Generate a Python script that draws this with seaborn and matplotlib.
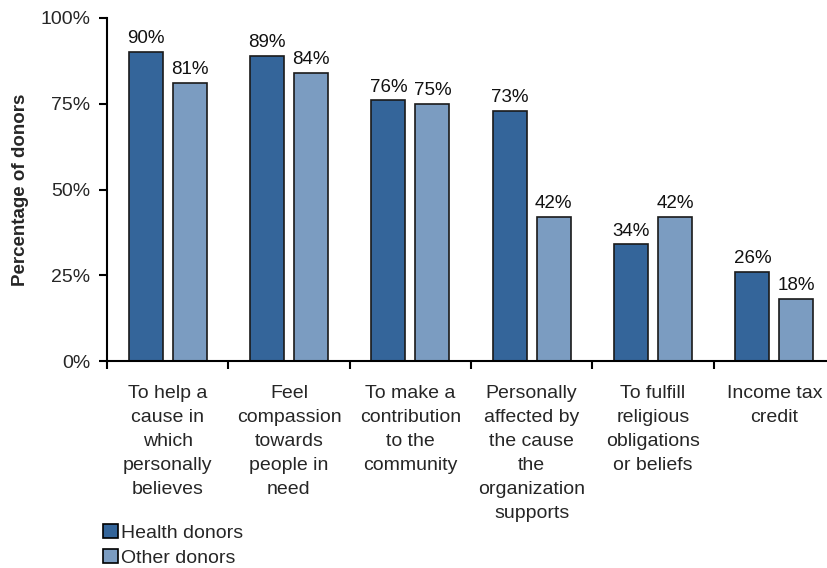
import matplotlib
matplotlib.use("Agg")
import matplotlib.pyplot as plt
import seaborn as sns
import pandas as pd
import numpy as np
from matplotlib.patches import Patch

categories = [
    "To help a\ncause in\nwhich\npersonally\nbelieves",
    "Feel\ncompassion\ntowards\npeople in\nneed",
    "To make a\ncontribution\nto the\ncommunity",
    "Personally\naffected by\nthe cause\nthe\norganization\nsupports",
    "To fulfill\nreligious\nobligations\nor beliefs",
    "Income tax\ncredit",
]
health = [90, 89, 76, 73, 34, 26]
other = [81, 84, 75, 42, 42, 18]
series = ["Health donors", "Other donors"]
colors = ["#34659a", "#7b9cc1"]

df = pd.DataFrame({
    "cat": list(range(len(categories))) * 2,
    "val": [v / 100 for v in health] + [v / 100 for v in other],
    "series": [series[0]] * len(health) + [series[1]] * len(other),
})

sns.set_style("white")
plt.rcParams["font.family"] = ["Liberation Sans", "DejaVu Sans"]

W, H = 828, 568
fig = plt.figure(figsize=(W / 100, H / 100), dpi=100)
left, right, top, bottom = 107, 835, 18, 361
ax = fig.add_axes([left / W, (H - bottom) / H, (right - left) / W, (bottom - top) / H])

sns.barplot(data=df, x="cat", y="val", hue="series", palette=colors, width=0.725, saturation=1,
            edgecolor="#1a1a1a", linewidth=1.2, ax=ax, legend=False, order=list(range(6)))

bw = 0.28
for p in ax.patches:
    c = p.get_x() + p.get_width() / 2
    p.set_width(bw)
    p.set_x(c - bw / 2)
    h = p.get_height()
    if h > 0:
        ax.text(c, h + 0.014, f"{round(h * 100)}%", ha="center", va="bottom",
                fontsize=13.5, color="#111111")

ax.set_xlim(-0.5, 5.5)
ax.set_ylim(0, 1)
ax.set_yticks([0, 0.25, 0.5, 0.75, 1.0])
ax.set_yticklabels(["0%", "25%", "50%", "75%", "100%"], fontsize=14)
ax.set_xticks(np.arange(-0.5, 6, 1))
ax.set_xticklabels([])
ax.set_xticks(range(6), minor=True)
ax.set_xticklabels(categories, minor=True, fontsize=14, linespacing=1.55, va="top")
ax.tick_params(axis="x", which="minor", length=0, pad=17)
ax.tick_params(axis="x", which="major", length=6, width=1.5, direction="out", color="black", bottom=True)
ax.tick_params(axis="y", length=6, width=1.5, direction="out", color="black", left=True, pad=6)
for s in ["top", "right"]:
    ax.spines[s].set_visible(False)
for s in ["left", "bottom"]:
    ax.spines[s].set_linewidth(1.5)
    ax.spines[s].set_color("black")
ax.set_xlabel("")
ax.set_ylabel("Percentage of donors", fontsize=13.5, fontweight="bold", labelpad=8.5)

handles = [Patch(facecolor=colors[i], edgecolor="black", linewidth=1.2, label=series[i]) for i in range(2)]
fig.legend(handles=handles, loc="upper left", bbox_to_anchor=(103 / W, 1 - 524 / H), frameon=False,
           fontsize=14, handlelength=0.75, handleheight=0.75, handletextpad=0.2, labelspacing=0.35,
           borderaxespad=0, borderpad=0)

fig.savefig("out.png", dpi=100)
